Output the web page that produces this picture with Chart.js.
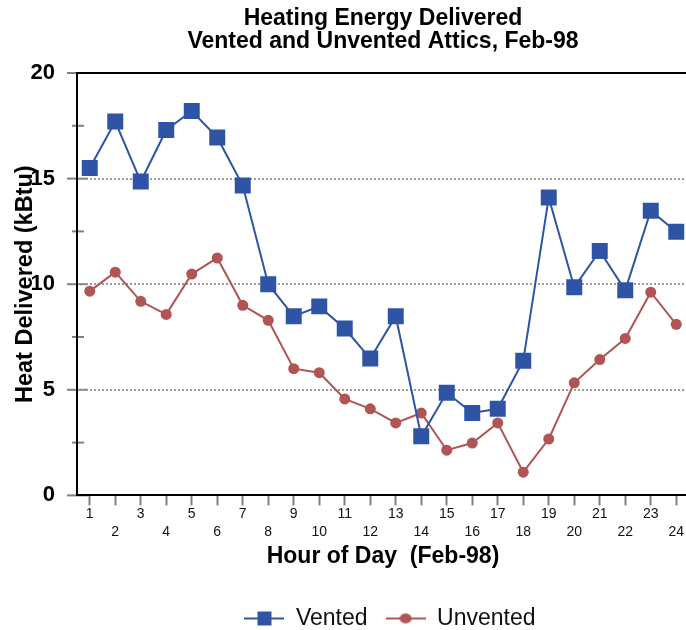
<!DOCTYPE html>
<html>
<head>
<meta charset="utf-8">
<script src="https://cdn.jsdelivr.net/npm/chart.js@4"></script>
<style>
  html, body { margin: 0; padding: 0; background: #fff; overflow: hidden; }
  #wrap { width: 689px; height: 630px; }
</style>
</head>
<body>
<div id="wrap"><canvas id="c" width="689" height="630"></canvas></div>
<script>
const hours = ['1','2','3','4','5','6','7','8','9','10','11','12','13','14','15','16','17','18','19','20','21','22','23','24'];
const vented = [15.5, 17.7, 14.86, 17.3, 18.2, 16.95, 14.67, 10.0, 8.48, 8.95, 7.9, 6.48, 8.48, 2.8, 4.86, 3.9, 4.1, 6.38, 14.1, 9.86, 11.57, 9.71, 13.48, 12.48];
const unvented = [9.67, 10.57, 9.19, 8.57, 10.48, 11.24, 9.0, 8.29, 6.0, 5.81, 4.57, 4.1, 3.43, 3.9, 2.14, 2.48, 3.43, 1.1, 2.67, 5.33, 6.43, 7.43, 9.62, 8.1];
const seriesNames = ['Vented', 'Unvented'];
const yMajorTicks = [0, 5, 10, 15, 20];

const BLUE = '#2F54A6';
const RED = '#B05454';
const FONT = "'Liberation Sans', Arial, Helvetica, sans-serif";

function legendImg(color, square) {
  const c = document.createElement('canvas');
  c.width = 40; c.height = 16;
  const g = c.getContext('2d');
  g.strokeStyle = color; g.lineWidth = 2;
  g.beginPath(); g.moveTo(0, 8); g.lineTo(40, 8); g.stroke();
  g.fillStyle = color;
  if (square) { g.fillRect(13, 1, 14, 14); }
  else { g.beginPath(); g.ellipse(20, 8, 6, 5, 0, 0, Math.PI * 2); g.fill(); }
  return c;
}
const legendImgs = [legendImg(BLUE, true), legendImg(RED, false)];

const yTickPlugin = {
  id: 'yTickMarks',
  beforeDraw(chart) {
    const s = chart.scales.y;
    const ctx = chart.ctx;
    const left = chart.chartArea.left;
    ctx.save();
    ctx.strokeStyle = '#808080';
    ctx.lineWidth = 2;
    s.ticks.forEach(t => {
      const y = s.getPixelForValue(t.value);
      const major = yMajorTicks.includes(t.value);
      ctx.beginPath();
      ctx.moveTo(left - (major ? 10 : 5), y);
      ctx.lineTo(left + (major ? 11 : 7), y);
      ctx.stroke();
    });
    ctx.restore();
  }
};

const legendShift = {
  id: 'legendShift',
  afterLayout(chart) {
    if (chart.legend) { chart.legend.left += 7; chart.legend.right += 7; }
  }
};

new Chart(document.getElementById('c'), {
  type: 'line',
  data: {
    labels: hours,
    datasets: [
      {
        label: seriesNames[0], data: vented,
        borderColor: BLUE, backgroundColor: BLUE, borderWidth: 2,
        pointStyle: 'rect', pointRadius: 11.3, pointBackgroundColor: BLUE, pointBorderWidth: 0,
        tension: 0
      },
      {
        label: seriesNames[1], data: unvented,
        borderColor: RED, backgroundColor: RED, borderWidth: 2,
        pointStyle: 'circle', pointRadius: 5.5, pointBackgroundColor: RED, pointBorderWidth: 0,
        tension: 0
      }
    ]
  },
  plugins: [yTickPlugin, legendShift],
  options: {
    responsive: false,
    animation: false,
    devicePixelRatio: 1,
    layout: { autoPadding: false, padding: { left: 0, right: 0, top: 0, bottom: -10 } },
    plugins: {
      tooltip: { enabled: false },
      title: {
        display: true,
        fullSize: false,
        text: ['Heating Energy Delivered', 'Vented and Unvented Attics, Feb-98'],
        color: '#000',
        font: { family: FONT, size: 23, weight: 'bold', lineHeight: 1 },
        padding: { top: 7, bottom: 20 }
      },
      legend: {
        position: 'bottom',
        fullSize: false,
        labels: {
          usePointStyle: true,
          pointStyleWidth: 40,
          padding: 18,
          color: '#111',
          font: { family: FONT, size: 23 },
          generateLabels(chart) {
            const items = Chart.defaults.plugins.legend.labels.generateLabels(chart);
            items.forEach((it, i) => { it.pointStyle = legendImgs[i]; });
            return items;
          }
        }
      }
    },
    scales: {
      x: {
        type: 'category',
        offset: true,
        grid: { display: true, offset: false, color: 'rgba(0,0,0,0)', drawTicks: true, tickLength: 10, tickColor: '#808080', tickWidth: 2 },
        border: { display: true, color: '#000', width: 2 },
        ticks: {
          autoSkip: false, maxRotation: 0, minRotation: 0, padding: 0,
          color: '#111',
          font: { family: FONT, size: 14, lineHeight: 18 / 14 },
          callback: (v, i) => (i % 2 === 0 ? [hours[i]] : ['', hours[i]])
        },
        title: {
          display: true, text: 'Hour of Day  (Feb-98)', color: '#000',
          font: { family: FONT, size: 23, weight: 'bold' },
          padding: { top: 1, bottom: 19 }
        }
      },
      x2: {
        type: 'category',
        position: 'top',
        display: true,
        grid: { display: false, drawTicks: false },
        ticks: { display: false },
        border: { display: true, color: '#000', width: 2 }
      },
      y: {
        min: 0, max: 20,
        ticks: {
          stepSize: 2.5,
          padding: 22,
          color: '#000',
          font: { family: FONT, size: 22, weight: 'bold' },
          callback: v => (yMajorTicks.includes(v) ? String(v) : '')
        },
        grid: {
          drawTicks: false,
          lineWidth: 2,
          color: ctx => (ctx.tick && [5, 10, 15].includes(ctx.tick.value) ? '#9a9a9a' : 'rgba(0,0,0,0)')
        },
        border: { display: true, color: '#000', width: 2, dash: [2, 2] },
        title: {
          display: true, text: 'Heat Delivered (kBtu)', color: '#000',
          font: { family: FONT, size: 23.5, weight: 'bold' },
          padding: { top: 11, bottom: 0 }
        },
        afterFit(scale) { scale.width = 77; }
      }
    }
  }
});
</script>
</body>
</html>
